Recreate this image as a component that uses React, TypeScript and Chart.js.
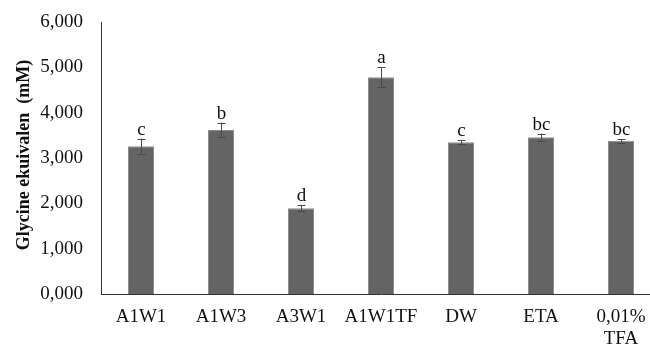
import React, { useEffect, useRef } from "react";
import { Chart, registerables } from "chart.js";

Chart.register(...registerables);

const categories: (string | string[])[] = ["A1W1", "A1W3", "A3W1", "A1W1TF", "DW", "ETA", ["0,01%", "TFA"]];
const means = [3.26, 3.62, 1.89, 4.78, 3.35, 3.46, 3.38];
const errors = [0.17, 0.16, 0.07, 0.22, 0.05, 0.08, 0.04];
const letters = ["c", "b", "d", "a", "c", "bc", "bc"];
const yTitle = "Glycine ekuivalen  (mM)";

const FONT = "'Liberation Serif', 'Times New Roman', serif";

const overlay = {
  id: "overlay",
  afterDatasetsDraw(chart: any) {
    const ctx = chart.ctx;
    const x = chart.scales.x;
    const y = chart.scales.y;
    ctx.save();
    ctx.strokeStyle = "#4a4a4a";
    ctx.lineWidth = 1;
    means.forEach((m, i) => {
      const cx = Math.round(x.getPixelForValue(i)) + 0.5;
      const top = y.getPixelForValue(m + errors[i]);
      const bot = y.getPixelForValue(m - errors[i]);
      ctx.beginPath();
      ctx.moveTo(cx, bot);
      ctx.lineTo(cx, top);
      ctx.moveTo(cx - 4, Math.round(top) + 0.5);
      ctx.lineTo(cx + 4, Math.round(top) + 0.5);
      ctx.moveTo(cx - 4, Math.round(bot) + 0.5);
      ctx.lineTo(cx + 4, Math.round(bot) + 0.5);
      ctx.stroke();
      ctx.fillStyle = "#111111";
      ctx.font = `19px ${FONT}`;
      ctx.textAlign = "center";
      ctx.textBaseline = "alphabetic";
      ctx.fillText(letters[i], cx, top - 4);
    });
    ctx.translate(24, 155);
    ctx.rotate(-Math.PI / 2);
    ctx.font = `bold 18px ${FONT}`;
    ctx.fillStyle = "#111111";
    ctx.textAlign = "center";
    ctx.textBaseline = "middle";
    ctx.fillText(yTitle, 0, 0);
    ctx.restore();
  },
};

export default function App() {
  const ref = useRef<HTMLCanvasElement>(null);
  useEffect(() => {
    document.body.style.margin = "0";
    document.body.style.overflow = "hidden";
    const chart = new Chart(ref.current!, {
      type: "bar",
      data: {
        labels: categories,
        datasets: [
          {
            data: means,
            backgroundColor: "#646464",
            borderColor: "#8c8c8c",
            borderWidth: 1,
            barPercentage: 0.65,
            categoryPercentage: 0.5,
          },
        ],
      },
      options: {
        responsive: false,
        animation: false,
        layout: { padding: { top: 22, right: 9, left: 0, bottom: 0 } },
        plugins: { legend: { display: false }, tooltip: { enabled: false } },
        scales: {
          x: {
            grid: { display: false, drawTicks: false },
            border: { color: "#333333", width: 1 },
            ticks: { color: "#111111", font: { family: FONT, size: 19, lineHeight: 1.15 }, padding: 12, maxRotation: 0, autoSkip: false },
            afterFit(s: any) { s.height = 53; s.paddingLeft = 0; s.paddingRight = 0; },
          },
          y: {
            min: 0,
            max: 6,
            grid: { display: false, drawTicks: false },
            border: { color: "#333333", width: 1 },
            ticks: {
              stepSize: 1,
              color: "#111111",
              font: { family: FONT, size: 19, lineHeight: 1 },
              padding: 18,
              callback: (v: any) => Number(v).toFixed(3).replace(".", ","),
            },
            afterFit(s: any) { s.width = 101; s.paddingTop = 0; s.paddingBottom = 0; },
          },
        },
      },
      plugins: [overlay],
    });
    return () => chart.destroy();
  }, []);
  return <canvas ref={ref} width={670} height={347} style={{ display: "block" }} />;
}
